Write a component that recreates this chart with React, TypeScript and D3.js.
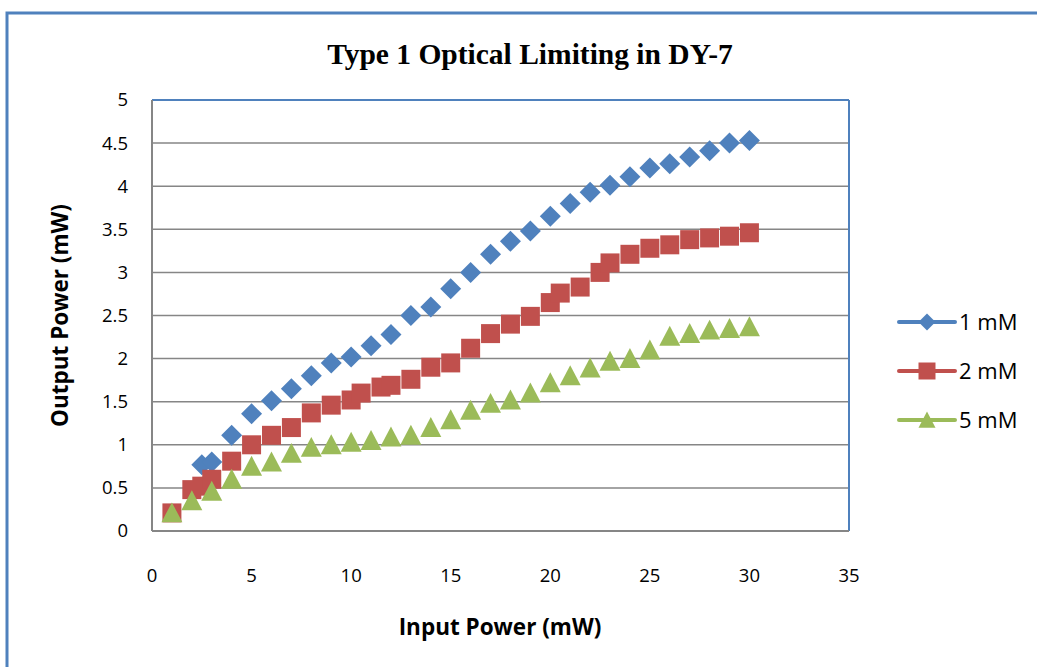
import React from "react";
import * as d3 from "d3";

const title = "Type 1 Optical Limiting in DY-7";
const xLabel = "Input Power (mW)";
const yLabel = "Output Power (mW)";
const xTicks = [0, 5, 10, 15, 20, 25, 30, 35];
const yTicks = [0, 0.5, 1, 1.5, 2, 2.5, 3, 3.5, 4, 4.5, 5];

const seriesNames = ["1 mM", "2 mM", "5 mM"];
const seriesColors = ["#4f81bd", "#c0504d", "#9bbb59"];

const x1 = [2.5, 3, 4, 5, 6, 7, 8, 9, 10, 11, 12, 13, 14, 15, 16, 17, 18, 19, 20, 21, 22, 23, 24, 25, 26, 27, 28, 29, 30];
const y1 = [0.77, 0.8, 1.11, 1.36, 1.51, 1.65, 1.8, 1.95, 2.02, 2.15, 2.28, 2.5, 2.6, 2.81, 3.0, 3.21, 3.36, 3.48, 3.65, 3.8, 3.93, 4.01, 4.11, 4.21, 4.26, 4.34, 4.41, 4.5, 4.53];

const x2 = [1, 2, 2.5, 3, 4, 5, 6, 7, 8, 9, 10, 10.5, 11.5, 12, 13, 14, 15, 16, 17, 18, 19, 20, 20.5, 21.5, 22.5, 23, 24, 25, 26, 27, 28, 29, 30];
const y2 = [0.21, 0.48, 0.52, 0.6, 0.81, 1.0, 1.11, 1.2, 1.37, 1.46, 1.52, 1.6, 1.67, 1.69, 1.76, 1.9, 1.95, 2.12, 2.29, 2.4, 2.49, 2.65, 2.76, 2.83, 3.0, 3.11, 3.21, 3.28, 3.32, 3.38, 3.4, 3.42, 3.46];

const x3 = [1, 2, 3, 4, 5, 6, 7, 8, 9, 10, 11, 12, 13, 14, 15, 16, 17, 18, 19, 20, 21, 22, 23, 24, 25, 26, 27, 28, 29, 30];
const y3 = [0.21, 0.35, 0.46, 0.6, 0.75, 0.8, 0.9, 0.97, 1.0, 1.03, 1.05, 1.09, 1.11, 1.2, 1.29, 1.4, 1.48, 1.52, 1.6, 1.72, 1.8, 1.89, 1.97, 2.0, 2.1, 2.26, 2.29, 2.33, 2.35, 2.37];

const seriesX = [x1, x2, x3];
const seriesY = [y1, y2, y3];

// custom Excel-like marker shapes for d3.symbol (size = width in px)
const diamond = {
  draw(ctx: any, size: number) {
    const r = size / 2;
    ctx.moveTo(0, -r);
    ctx.lineTo(r, 0);
    ctx.lineTo(0, r);
    ctx.lineTo(-r, 0);
    ctx.closePath();
  },
};
const square = {
  draw(ctx: any, size: number) {
    const r = size / 2;
    ctx.rect(-r, -r, size, size);
  },
};
const triangle = {
  draw(ctx: any, size: number) {
    const r = size / 2;
    ctx.moveTo(0, -r);
    ctx.lineTo(r, r * 0.9);
    ctx.lineTo(-r, r * 0.9);
    ctx.closePath();
  },
};
const symbolTypes = [diamond, square, triangle];
const markerSizes = [21, 19, 21];

const W = 1037;
const H = 667;
const plot = { left: 152, right: 849, top: 100, bottom: 531 };

export default function App() {
  const x = d3.scaleLinear().domain([0, 35]).range([plot.left, plot.right]);
  const y = d3.scaleLinear().domain([0, 5]).range([plot.bottom, plot.top]);
  const font = "'Open Sans', sans-serif";
  const legendY = [322, 371, 420];

  return (
    <div style={{ position: "fixed", left: 0, top: 0 }}>
      <svg width={W} height={H} style={{ display: "block", background: "#fff" }}>
        {/* outer chart border */}
        <rect x={7} y={13} width={W + 20} height={H + 20} fill="none" stroke="#4f81bd" strokeWidth={3} />
        <text x={530} y={64} textAnchor="middle" fontFamily="'Liberation Serif', 'Times New Roman', serif" fontWeight="bold" fontSize={29.5}>
          {title}
        </text>

        {/* gridlines */}
        {yTicks.slice(1, -1).map((t) => (
          <line key={t} x1={plot.left} x2={plot.right} y1={y(t)} y2={y(t)} stroke="#868686" strokeWidth={1.5} />
        ))}
        {/* plot area border: top/right blue */}
        <line x1={plot.left} x2={plot.right} y1={plot.top} y2={plot.top} stroke="#4f81bd" strokeWidth={2} />
        <line x1={plot.right} x2={plot.right} y1={plot.top} y2={plot.bottom} stroke="#4f81bd" strokeWidth={2} />
        {/* axes */}
        <line x1={plot.left} x2={plot.right} y1={plot.bottom} y2={plot.bottom} stroke="#868686" strokeWidth={2} />
        <line x1={plot.left} x2={plot.left} y1={plot.top} y2={plot.bottom} stroke="#868686" strokeWidth={2} />

        {/* y tick labels */}
        {yTicks.map((t) => (
          <text key={t} x={128} y={y(t)} dy="0.35em" textAnchor="end" fontFamily={font} fontSize={18.5} fill="#000">
            {String(t)}
          </text>
        ))}
        {/* x tick labels */}
        {xTicks.map((t) => (
          <text key={t} x={x(t)} y={576} dy="0.35em" textAnchor="middle" fontFamily={font} fontSize={18.5} fill="#000">
            {String(t)}
          </text>
        ))}

        {/* axis titles */}
        <text x={500} y={627} dy="0.35em" textAnchor="middle" fontFamily={font} fontWeight="bold" fontSize={22.5}>
          {xLabel}
        </text>
        <text
          transform={`translate(60, ${(plot.top + plot.bottom) / 2}) rotate(-90)`}
          dy="0.35em"
          textAnchor="middle"
          fontFamily={font}
          fontWeight="bold"
          fontSize={22.5}
        >
          {yLabel}
        </text>

        {/* markers */}
        {seriesX.map((xs, si) => (
          <g key={si} fill={seriesColors[si]}>
            {xs.map((xv, i) => (
              <path
                key={i}
                transform={`translate(${x(xv)}, ${y(seriesY[si][i])})`}
                d={d3.symbol(symbolTypes[si], markerSizes[si])() as string}
              />
            ))}
          </g>
        ))}

        {/* legend */}
        {seriesNames.map((name, si) => (
          <g key={name}>
            <line x1={899} x2={955} y1={legendY[si]} y2={legendY[si]} stroke={seriesColors[si]} strokeWidth={4} strokeLinecap="round" />
            <path
              transform={`translate(927, ${legendY[si]})`}
              d={d3.symbol(symbolTypes[si], 17)() as string}
              fill={seriesColors[si]}
            />
            <text x={959} y={legendY[si]} dy="0.35em" fontFamily={font} fontSize={22} fill="#000">
              {name}
            </text>
          </g>
        ))}
      </svg>
    </div>
  );
}
